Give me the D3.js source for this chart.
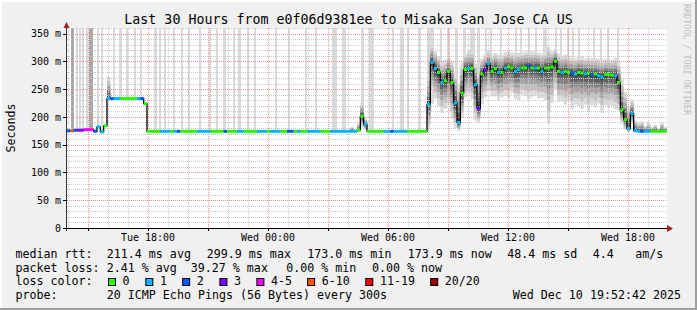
<!DOCTYPE html>
<html><head><meta charset="utf-8">
<script src="https://cdn.jsdelivr.net/npm/d3@7"></script>
<style>html,body{margin:0;padding:0;background:#f0f0f0;overflow:hidden}</style>
</head><body>
<script>
// ---------------- DATA ----------------
const startTime = Date.UTC(2025, 11, 9, 13, 57);   // Tue Dec 9 13:57
const stepMinutes = 10;
const spanHours = 30;

const median = [
175,175,176,176,176,177,177,177,174,182,
173,184,233,233,233,233,233,233,233,233,
233,233,233,224,174,174,174,174,174,174,
174,174,174,174,174,174,174,174,174,174,
174,174,174,174,174,174,174,174,174,174,
174,174,174,174,174,174,174,174,174,174,
174,174,174,174,174,174,174,174,174,174,
174,174,174,174,174,174,174,174,174,174,
174,174,174,174,174,174,174,176,201,187,
174,174,174,174,174,174,174,174,174,174,
174,174,174,174,174,174,174,174,222,298,
287,280,262,265,282,262,225,190,243,285,
287,287,258,215,277,285,296,282,287,280,
280,288,290,288,282,285,288,288,292,288,
288,288,282,288,288,290,300,282,280,282,
280,279,277,280,279,277,279,276,277,274,
272,276,276,275,274,262,213,195,179,206,
175,174,174,174,174,174,174,174,174,174];

const lossIdx = [
2,5,2,3,3,4,4,4,2,1,
1,0,1,2,1,1,0,0,0,0,
0,1,2,0,0,0,0,0,1,1,
1,0,1,2,0,0,0,0,0,1,
1,1,1,0,0,0,0,2,0,0,
0,1,1,0,0,0,0,1,1,1,
0,1,1,1,0,0,2,2,0,1,
0,0,1,1,1,1,0,0,0,1,
1,1,1,1,1,1,1,0,0,1,
0,0,0,0,0,1,1,2,1,1,
1,1,0,0,0,0,0,0,1,1,
1,0,1,0,0,0,1,1,0,0,
1,0,1,3,0,3,1,0,0,1,
0,1,0,0,1,1,0,0,2,0,
1,0,1,0,0,0,0,0,1,0,
0,2,1,0,0,1,0,2,0,1,
1,0,0,0,1,0,0,0,1,1,
1,1,2,1,1,0,0,0,0,0];

const smokeDown = [
0,0,0,0,0,0,0,0,0,0,
0,0,0,0,0,0,0,0,0,0,
0,0,0,0,0,0,0,0,0,0,
0,0,0,0,0,0,0,0,0,0,
0,0,0,0,0,0,0,0,0,0,
0,0,0,0,0,0,0,0,0,0,
0,0,0,0,0,0,0,0,0,0,
0,0,0,0,0,0,0,0,0,0,
0,0,0,0,0,0,0,0,20,10,
0,0,0,0,0,0,0,0,0,0,
0,0,0,0,0,0,0,0,45,55,
55,60,55,50,60,65,45,15,45,50,
45,55,65,25,55,50,50,45,50,50,
45,50,55,45,50,55,48,50,60,52,
50,55,48,58,100,65,50,55,52,60,
50,65,55,60,65,55,70,55,60,50,
65,55,60,55,60,50,25,18,6,18,
2,1,1,1,1,1,1,1,1,1];

const smokeUp = [
0,0,0,0,0,0,0,0,0,0,
0,0,40,0,0,0,0,0,0,0,
0,0,0,0,0,0,0,0,0,0,
0,0,0,0,0,0,0,0,0,0,
0,0,0,0,0,0,0,0,0,0,
0,0,0,0,0,0,0,0,0,0,
0,0,0,0,0,0,0,0,0,0,
0,0,0,0,0,0,0,0,0,0,
0,0,0,0,0,8,0,12,25,10,
0,0,0,0,0,0,0,0,0,0,
0,0,0,0,0,0,0,0,55,32,
32,28,38,38,28,38,55,70,55,28,
32,32,38,70,28,28,22,30,28,32,
32,28,28,28,32,30,28,30,25,30,
30,28,32,28,38,28,22,32,30,30,
28,28,28,28,30,28,28,30,28,30,
32,28,28,28,32,38,55,50,38,25,
18,15,18,10,15,8,12,5,15,8];

// outlier pings above the top of the chart: start (minutes after start), duration (minutes), share level
const stripeStart = [12,27,36,45,57,66,90,102,138,156,177,201,219,261,276,291,318,342,363,396,426,447,468,498,513,540,561,624,663,714,744,795,825,882,906,975,999,1020,1053,1080,1119,1140,1164,1188,1209,1230,1254,1269,1299,1344,1359,1383,1404,1428,1464,1479,1500,1515,1533,1578,1599,1620,1650];
const stripeLen   = [9,6,6,6,6,12,6,6,6,9,6,6,6,9,6,6,6,6,6,6,6,6,9,6,9,6,6,6,6,6,6,15,12,9,15,6,12,6,9,21,6,9,9,9,15,9,6,6,6,6,6,6,6,12,6,6,6,6,6,6,6,6,6];
const stripeLevel = [2,1,1,1,1,2,1,1,1,1,1,1,1,1,1,1,1,1,1,1,1,1,1,1,1,1,1,1,1,1,1,1,1,1,1,1,1,1,1,1,1,1,1,1,1,1,1,1,1,1,1,1,1,1,1,1,1,1,1,1,1,1,1];

const yTicks = [0,50,100,150,200,250,300,350];
const lossLabels = ["0","1","2","3","4-5","6-10","11-19","20/20"];
const lossColors = ["#26ff00","#00b8ff","#0059ff","#7e00ff","#ff00ff","#ff5500","#ff0000","#a10000"];

const titleText = "Last 30 Hours from e0f06d9381ee to Misaka San Jose CA US";
const rttLabel = "median rtt:";
const rttStats = ["211.4 ms avg","299.9 ms max","173.0 ms min","173.9 ms now","48.4 ms sd","4.4","am/s"];
const lossLabel = "packet loss:";
const lossStats = ["2.41 % avg","39.27 % max","0.00 % min","0.00 % now"];
const colorLabel = "loss color:";
const probeLabel = "probe:";
const probeText = "20 ICMP Echo Pings (56 Bytes) every 300s";
const dateText = "Wed Dec 10 19:52:42 2025";
const watermark = "RRDTOOL / TOBI OETIKER";

// ---------------- LAYOUT ----------------
const W = 697, H = 310;
const mono = '"DejaVu Sans Mono", monospace';
const svg = d3.select("body").append("svg").attr("width", W).attr("height", H).style("display","block");

svg.append("rect").attr("width", W).attr("height", H).attr("fill", "#f0f0f0");
svg.append("path").attr("d", `M0,0H${W}V2H2V${H}H0Z`).attr("fill", "#ffffff");
svg.append("path").attr("d", `M${W},${H}H0V${H-2}H${W-2}V0H${W}Z`).attr("fill", "#9e9e9e");

const t0 = new Date(startTime), t1 = new Date(startTime + spanHours * 3600e3);
const x = d3.scaleUtc().domain([t0, t1]).range([67, 667]);
const y = d3.scaleLinear().domain([0, 360]).range([228, 28]);
const tStep = i => new Date(startTime + i * stepMinutes * 60e3);
const stepOf = m => Math.min(median.length - 1, Math.floor(m / stepMinutes));

// canvas
svg.append("rect").attr("x", 67).attr("y", 28).attr("width", 600).attr("height", 200).attr("fill", "#ffffff");

const plot = svg.append("g");

// outlier stripes
stripeStart.forEach((s, k) => {
  const a = new Date(startTime + s * 60e3), b = new Date(startTime + (s + stripeLen[k]) * 60e3);
  const med = median[stepOf(s)];
  plot.append("rect")
    .attr("x", x(a)).attr("width", x(b) - x(a))
    .attr("y", y(360)).attr("height", y(med) - 1 - y(360))
    .attr("fill", stripeLevel[k] === 2 ? "#a8a8a8" : "#dadada");
});

// smoke
const layers = [[1, "#dadada"], [0.78, "#bfbfbf"], [0.58, "#a2a2a2"], [0.4, "#828282"], [0.24, "#5e5e5e"], [0.1, "#3c3c3c"]];
median.forEach((m, i) => {
  const d = smokeDown[i], u = smokeUp[i];
  if (d + u <= 0) return;
  const xa = x(tStep(i)), xb = x(tStep(i + 1));
  layers.forEach(([f, c]) => {
    const top = Math.min(360, m + u * f), bot = Math.max(0, m - d * f);
    plot.append("rect").attr("x", xa).attr("width", xb - xa)
      .attr("y", y(top)).attr("height", Math.max(0, y(bot) - y(top))).attr("fill", c);
  });
});

// grid
const grid = svg.append("g").attr("shape-rendering", "crispEdges");
const minorY = y.ticks(36).filter(v => v > 0 && yTicks.indexOf(v) < 0);
minorY.forEach(v => grid.append("line").attr("x1", 67).attr("x2", 667)
  .attr("y1", Math.round(y(v)) + 0.5).attr("y2", Math.round(y(v)) + 0.5)
  .attr("stroke", "#c8c8c8").attr("stroke-dasharray", "1,1"));
const hours = x.ticks(d3.utcHour.every(1));
hours.filter(t => t.getUTCHours() % 3 !== 0).forEach(t => grid.append("line")
  .attr("x1", Math.round(x(t)) + 0.5).attr("x2", Math.round(x(t)) + 0.5).attr("y1", 28).attr("y2", 228)
  .attr("stroke", "#c8c8c8").attr("stroke-dasharray", "1,1"));
yTicks.filter(v => v > 0).forEach(v => grid.append("line").attr("x1", 67).attr("x2", 667)
  .attr("y1", Math.round(y(v)) + 0.5).attr("y2", Math.round(y(v)) + 0.5)
  .attr("stroke", "#f09090").attr("stroke-dasharray", "1,1"));
const majorX = x.ticks(d3.utcHour.every(3));
majorX.forEach(t => grid.append("line")
  .attr("x1", Math.round(x(t)) + 0.5).attr("x2", Math.round(x(t)) + 0.5).attr("y1", 28).attr("y2", 228)
  .attr("stroke", "#f09090").attr("stroke-dasharray", "1,1"));

// median line
const pts = median.map((v, i) => [tStep(i), v]);
pts.push([tStep(median.length), median[median.length - 1]]);
svg.append("path").datum(pts)
  .attr("d", d3.line().x(d => x(d[0])).y(d => y(d[1])).curve(d3.curveStepAfter))
  .attr("fill", "none").attr("stroke", "#000").attr("stroke-width", 1.3);
median.forEach((v, i) => {
  const xa = x(tStep(i)), xb = x(tStep(i + 1));
  svg.append("rect").attr("x", xa).attr("width", xb - xa)
    .attr("y", y(v) - 1.5).attr("height", 3).attr("fill", lossColors[lossIdx[i]]);
});

// axes
const ax = svg.append("g").attr("shape-rendering", "crispEdges");
ax.append("line").attr("x1", 63).attr("x2", 668).attr("y1", 228.5).attr("y2", 228.5).attr("stroke", "#000");
ax.append("line").attr("x1", 66.5).attr("x2", 66.5).attr("y1", 231).attr("y2", 26).attr("stroke", "#333");
majorX.forEach(t => ax.append("line").attr("x1", Math.round(x(t)) + 0.5).attr("x2", Math.round(x(t)) + 0.5)
  .attr("y1", 229).attr("y2", 231).attr("stroke", "#000"));
yTicks.forEach(v => ax.append("line").attr("x1", 63).attr("x2", 67)
  .attr("y1", Math.round(y(v)) + 0.5).attr("y2", Math.round(y(v)) + 0.5).attr("stroke", "#000"));
svg.append("path").attr("d", "M667,225L673,228.5L667,232Z").attr("fill", "#a02020");
svg.append("path").attr("d", "M63.5,28L66.5,22L69.5,28Z").attr("fill", "#a02020");

// tick labels
yTicks.forEach(v => svg.append("text").attr("x", 61).attr("y", y(v) + 3.7)
  .attr("text-anchor", "end").attr("font-family", mono).attr("font-size", "10px").attr("fill", "#000")
  .text(v === 0 ? "0" : v + " m"));
const fmt = d3.utcFormat("%a %H:%M");
x.ticks(d3.utcHour.every(6)).forEach(t => svg.append("text").attr("x", x(t)).attr("y", 241)
  .attr("text-anchor", "middle").attr("font-family", mono).attr("font-size", "10px").attr("fill", "#000")
  .text(fmt(t)));

svg.append("text").attr("transform", "translate(14.5,128) rotate(-90)")
  .attr("text-anchor", "middle").attr("font-family", mono).attr("font-size", "11.65px").attr("fill", "#000")
  .text("Seconds");

// title
svg.append("text").attr("x", 348.5).attr("y", 23.5).attr("text-anchor", "middle")
  .attr("font-family", mono).attr("font-size", "13.3px").attr("fill", "#000").text(titleText);

// watermark
svg.append("text").attr("transform", "translate(684,4) rotate(90)")
  .attr("font-family", mono).attr("font-size", "8.4px").attr("fill", "#bdbdbd").text(watermark);

// legend
const lg = (tx, xx, yy) => svg.append("text").attr("x", xx).attr("y", yy)
  .attr("font-family", mono).attr("font-size", "11.65px").attr("fill", "#000")
  .attr("xml:space", "preserve").text(tx);
const L1 = 258.3, L2 = 271.7, L3 = 285.1, L4 = 298.5;
lg(rttLabel, 15.5, L1);
[106.8, 206.8, 307.3, 407.7, 507.2, 592.8, 635.2].forEach((xx, k) => lg(rttStats[k], xx, L1));
lg(lossLabel, 15.5, L2);
[106.8, 190.8, 286.3, 372].forEach((xx, k) => lg(lossStats[k], xx, L2));
lg(colorLabel, 15.5, L3);
const swX = [108, 145.3, 182.2, 219.4, 256.4, 307.1, 365.3, 430.2];
lossLabels.forEach((lab, k) => {
  svg.append("rect").attr("x", swX[k] + 0.5).attr("y", 278.5).attr("width", 7).attr("height", 7)
    .attr("fill", lossColors[k]).attr("stroke", "#000").attr("stroke-width", 1);
  lg(lab, swX[k] + 14.6, L3);
});
lg(probeLabel, 15.5, L4);
lg(probeText, 106.8, L4);
lg(dateText, 512.8, L4);
</script>
</body></html>
